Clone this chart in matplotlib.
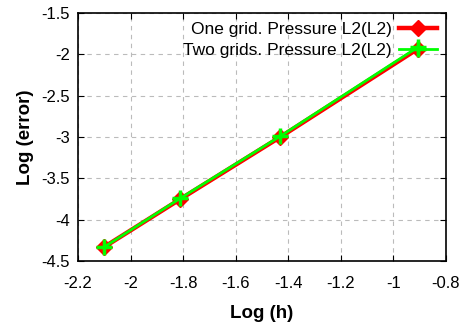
import matplotlib
matplotlib.use("Agg")
import matplotlib.pyplot as plt

plt.rcParams['font.family'] = ['Liberation Sans', 'DejaVu Sans']

log_h = [-2.10, -1.81, -1.43, -0.905]
one_grid = [-4.33, -3.75, -3.00, -1.93]
two_grids = [-4.33, -3.74, -2.99, -1.91]
labels = ["One grid. Pressure L2(L2)", "Two grids. Pressure L2(L2)"]
xticks = [-2.2, -2.0, -1.8, -1.6, -1.4, -1.2, -1.0, -0.8]
yticks = [-4.5, -4.0, -3.5, -3.0, -2.5, -2.0, -1.5]

fig = plt.figure(figsize=(4.63, 3.25), dpi=100)
ax = fig.add_axes([0.1685, 0.197, 0.7945, 0.763])

ax.plot(log_h, one_grid, color='#ff0000', lw=3.2, marker='D', markersize=8.5,
        markeredgewidth=1, label=labels[0], zorder=3)
ax.plot(log_h, two_grids, color='#00ff00', lw=2, marker='+', markersize=11,
        markeredgewidth=2.5, label=labels[1], zorder=4)

ax.set_xlim(-2.2, -0.8)
ax.set_ylim(-4.5, -1.5)
ax.set_xticks(xticks)
ax.set_yticks(yticks)
ax.set_xticklabels([f"{v:g}" for v in xticks], fontsize=12)
ax.set_yticklabels([f"{v:g}" for v in yticks], fontsize=12)
ax.tick_params(direction='in', top=True, right=True, length=4, width=0.8)
ax.tick_params(axis='x', pad=11)
ax.tick_params(axis='y', pad=6)
ax.grid(True, color='#bbbbbb', linestyle=(0, (4, 4)), lw=0.8)
for s in ax.spines.values():
    s.set_linewidth(1.2)

ax.set_xlabel("Log (h)", fontsize=13.5, fontweight='bold', labelpad=10)
ax.set_ylabel("Log (error)", fontsize=13.5, fontweight='bold', labelpad=5)

leg = ax.legend(loc='upper right', frameon=False, markerfirst=False,
                fontsize=12.5, handlelength=2.2, borderaxespad=0.3,
                labelspacing=0.35, handletextpad=0.4, borderpad=0.2)

fig.savefig("out.png", dpi=100)
